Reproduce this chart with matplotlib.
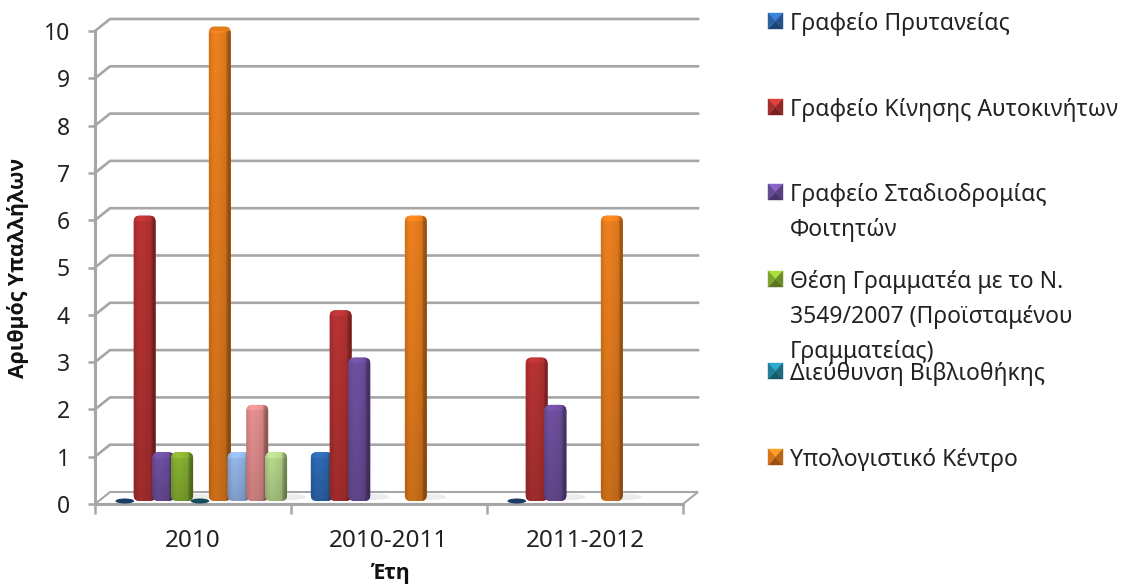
import numpy as np
import matplotlib
matplotlib.use('Agg')
from matplotlib import pyplot as plt
from matplotlib.patches import Ellipse, Polygon, FancyBboxPatch
from matplotlib.colors import to_rgb

# chart values, None means no mark at all in the original
years = ['2010', '2010-2011', '2011-2012']
prytaneia = [0, 1, 0]
kinisi = [6, 4, 3]
stadiodromia = [1, 3, 2]
grammateas = [1, None, None]
vivliothiki = [0, None, None]
ypologistiko = [10, 6, 6]
hidden_a = [1, None, None]
hidden_b = [2, None, None]
hidden_c = [1, None, None]

series = [prytaneia, kinisi, stadiodromia, grammateas, vivliothiki,
          ypologistiko, hidden_a, hidden_b, hidden_c]
colors = ['#2a62a6', '#a92f2f', '#674a94', '#7ea52e', '#1f7f99',
          '#d9761c', '#8aaad8', '#d58585', '#aac882']

legend_labels = ['Γραφείο Πρυτανείας',
                 'Γραφείο Κίνησης Αυτοκινήτων',
                 'Γραφείο Σταδιοδρομίας\nΦοιτητών',
                 'Θέση Γραμματέα με το Ν.\n3549/2007 (Προϊσταμένου\nΓραμματείας)',
                 'Διεύθυνση Βιβλιοθήκης',
                 'Υπολογιστικό Κέντρο']
legend_colors = colors[:6]
legend_y = [21, 107, 192, 279, 371, 457]

W, H = 1123, 585
plt.rcParams['font.family'] = ['Noto Sans', 'DejaVu Sans']
GREY = '#a6a6a6'

fig = plt.figure(figsize=(W/100, H/100), dpi=100, facecolor='white')
# axes box is the front face of the 3d chart, 95..683 px and y 504..31 px
ax = fig.add_axes([95/W, 1-504/H, 588/W, 473/H])
ax.patch.set_alpha(0)

px = 3/588.0      # one pixel in x data
py = 10/473.0     # one pixel in y data
dx, dy = 15*px, 12*py
base = 3*py
pitch = 18.8*px
bar_w = 22*px

# floor and back wall lines
floor = Polygon([(0, 0), (dx, dy), (3+dx, dy), (3, 0)], closed=True, fc='white',
                ec=GREY, lw=1.5, clip_on=False, zorder=1)
ax.add_patch(floor)
for v in range(1, 11):
    ax.plot([0, dx, 3+dx], [v, v+dy, v+dy], color=GREY, lw=1.9, clip_on=False, zorder=1)

# horizontal shading across a bar, dark side on the right
shade = np.array([0.92, 1.0, 1.03, 1.03, 1.02, 1.0, 0.98, 0.95, 0.72, 0.64])

for k, vals in enumerate(series):
    col = np.array(to_rgb(colors[k]))
    for g, v in enumerate(vals):
        if v is None:
            continue
        x = g + 0.5 + (k-4)*pitch + 8*px
        if v == 0:
            ax.add_patch(Ellipse((x-px, base), bar_w*0.85, 5*py, fc=col*0.6, ec='none', zorder=3+k))
            continue
        # soft grey shadow on the floor
        ax.add_patch(Ellipse((x+bar_w*0.65, base+4*py), bar_w*1.4, 6*py, fc='#ececec', ec='none',
                             clip_on=False, zorder=2))
        ax.bar(x, v, width=bar_w, bottom=base, color='none', zorder=3+k)
        top = base + v + 1.5*py
        r = 6*px
        box = FancyBboxPatch((x-bar_w/2+r, base+r*py/px), bar_w-2*r, top-base-2*r*py/px,
                             boxstyle=f'round,pad={r},rounding_size={r}', mutation_aspect=py/px,
                             fc=np.clip(col*1.05, 0, 1), ec='none', clip_on=False, zorder=3+k)
        ax.add_patch(box)
        # one row per pixel, top few rows are the lighter cap of the bar
        rows = int((top-base)/py)
        fade = np.linspace(1.06, 0.9, rows)[:, None]
        fade[:6] *= 1.08
        img = np.clip(col[None, None, :]*(fade*shade)[:, :, None], 0, 1)
        im = ax.imshow(img, extent=(x-bar_w/2, x+bar_w/2, base, top), aspect='auto',
                       origin='upper', interpolation='bilinear', zorder=3+k)
        im.set_clip_path(box)

ax.set_xlim(0, 3)
ax.set_ylim(0, 10)

ax.set_xticks([0.5, 1.5, 2.5], years)
ax.set_xticks([0, 1, 2, 3], minor=True)
ax.set_yticks(range(0, 11))
ax.tick_params(axis='x', which='major', length=0, labelsize=17.5, pad=18, labelcolor='#222222')
ax.tick_params(axis='x', which='minor', length=7, width=1.8, color=GREY)
ax.tick_params(axis='y', length=5, width=1.8, color=GREY, labelsize=16.5, pad=13, labelcolor='#222222')
for s in ['top', 'right']:
    ax.spines[s].set_visible(False)
for s in ['left', 'bottom']:
    ax.spines[s].set_color(GREY)
    ax.spines[s].set_linewidth(2.2)
    ax.spines[s].set_zorder(2)

fig.text(18/W, 1-268/H, 'Αριθμός Υπαλλήλων', rotation=90, ha='center', va='center',
         fontsize=15.3, fontweight='bold', family='Open Sans', color='#111111')
fig.text(390/W, 1-574/H, 'Έτη', ha='center', va='center', fontsize=15.3, fontweight='bold',
         family='Open Sans', color='#111111')

# legend is hand placed because its entries overlap in the original
for label, c, y in zip(legend_labels, legend_colors, legend_y):
    col = np.array(to_rgb(c))
    x0, x1, y0, y1 = 768, 783, y-8, y+8
    xc, yc = (x0+x1)/2, (y0+y1)/2
    faces = [([(x0, y0), (x1, y0), (xc, yc)], np.clip(col*1.35, 0, 1)),
             ([(x0, y1), (x1, y1), (xc, yc)], col*0.7),
             ([(x0, y0), (x0, y1), (xc, yc)], col),
             ([(x1, y0), (x1, y1), (xc, yc)], col*0.85)]
    for pts, fc in faces:
        fig.add_artist(Polygon([(a/W, 1-b/H) for a, b in pts], closed=True, fc=fc, ec=fc, lw=0.3,
                               transform=fig.transFigure))
    fig.text(790/W, 1-(y-9)/H, label, ha='left', va='top', fontsize=16.5, color='#222222',
             linespacing=1.6)

fig.savefig('out.png', dpi=100)
